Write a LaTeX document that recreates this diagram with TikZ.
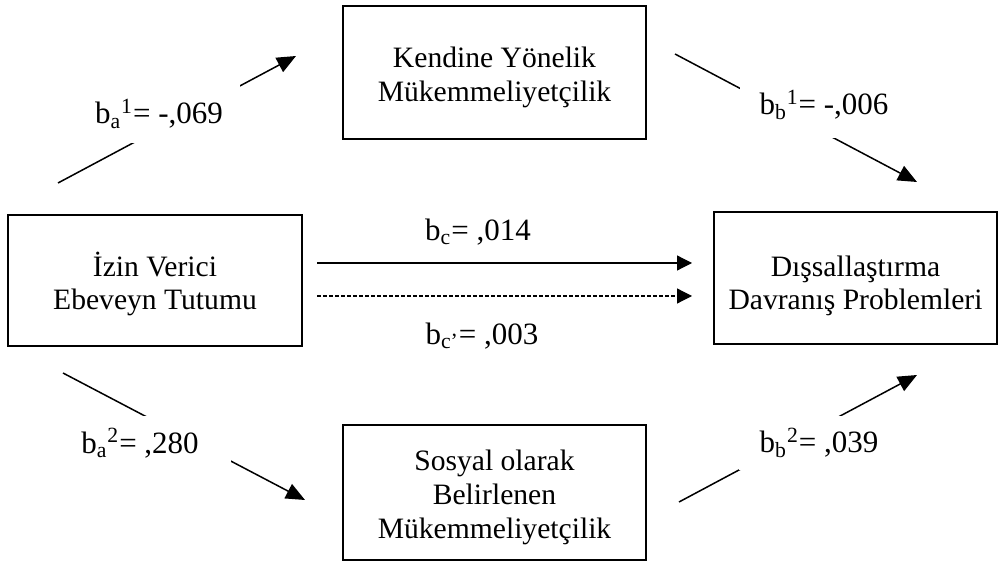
\documentclass[tikz,border=0pt]{standalone}
\usepackage{fontspec}
\setmainfont{Liberation Serif}
\usetikzlibrary{arrows.meta}
\tikzset{
  box/.style={draw, line width=1pt, inner sep=0pt, align=center, text depth=3pt, font=\fontsize{14.8}{17}\selectfont},
  coef/.style={inner sep=0pt, font=\fontsize{15.5}{18}\selectfont},
  gap/.style={coef, fill=white},
  link/.style={line width=0.75pt, -{Triangle[length=9.5pt,width=8pt]}},
  direct/.style={line width=0.6pt, -{Triangle[length=7.5pt,width=7.5pt]}},
  indirect/.style={direct, dash pattern=on 2pt off 1pt}
}
\begin{document}
\begin{tikzpicture}[x=0.5pt,y=-0.5pt]
            \useasboundingbox (0,0) rectangle (1000,566);
            \node[box, minimum width=151.5pt, minimum height=66.5pt, text height=32.5pt] (kym) at (494.5,72.5) {Kendine Yönelik\\Mükemmeliyetçilik};
            \node[box, minimum width=147pt, minimum height=65.5pt, text height=32.5pt] (iveb) at (155,280.5) {İzin Verici\\Ebeveyn Tutumu};
            \node[box, minimum width=141.5pt, minimum height=66pt, text height=35pt] (ddp) at (855.5,278) {Dışsallaştırma\\Davranış Problemleri};
            \node[box, minimum width=151.5pt, minimum height=67.5pt, text height=48.5pt] (sbm) at (494.5,492.5) {Sosyal olarak\\Belirlenen\\Mükemmeliyetçilik};

            \coordinate (a1s) at (58,183);
            \coordinate (a1e) at (296,56);
            \coordinate (b1s) at (675,54);
            \coordinate (b1e) at (917,182);
            \coordinate (a2s) at (63,373);
            \coordinate (a2e) at (305,500);
            \coordinate (b2s) at (679,502);
            \coordinate (b2e) at (917,375);

            \draw[link] (a1s) to (a1e);
            \draw[link] (b1s) to (b1e);
            \draw[link] (a2s) to (a2e);
            \draw[link] (b2s) to (b2e);
            \draw[direct, shorten <=7pt, shorten >=10.5pt] (iveb.east |- 0,263) to (ddp.west |- 0,263);
            \draw[indirect, shorten <=7pt, shorten >=10.5pt] (iveb.east |- 0,296) to (ddp.west |- 0,296);

            \node[gap, minimum width=81pt, minimum height=29pt] (ba1) at (159,114) {b\textsubscript{a}\textsuperscript{1}= -,069};
            \node[gap, minimum width=84pt, minimum height=33pt] (bb1) at (824,105) {b\textsubscript{b}\textsuperscript{1}= -,006};
            \node[gap, minimum width=91pt, minimum height=27pt] (ba2) at (140,443) {b\textsubscript{a}\textsuperscript{2}= ,280};
            \node[gap, minimum width=80pt, minimum height=27pt] (bb2) at (819,443) {b\textsubscript{b}\textsuperscript{2}= ,039};
            \node[coef] (bc) at (478,232) {b\textsubscript{c}= ,014};
            \node[coef] (bcp) at (482,336) {b\textsubscript{c’}= ,003};
        \end{tikzpicture}
\end{document}
